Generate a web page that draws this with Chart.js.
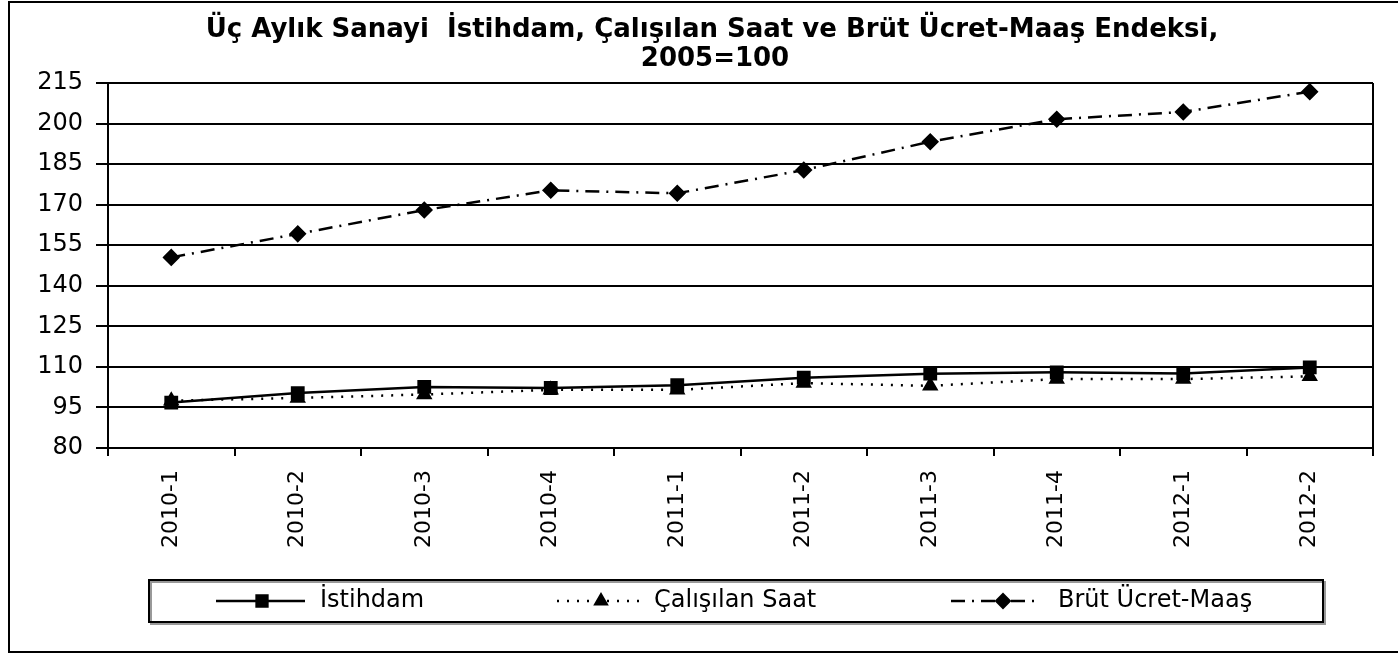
<!DOCTYPE html>
<html>
<head>
<meta charset="utf-8">
<script src="https://cdn.jsdelivr.net/npm/chart.js@4/dist/chart.umd.min.js"></script>
<style>
html,body{margin:0;padding:0;background:#fff;}
#wrap{position:relative;width:1398px;height:655px;}
</style>
</head>
<body>
<div id="wrap"><canvas id="c" width="1398" height="655"></canvas></div>
<script>
const categories = ['2010-1','2010-2','2010-3','2010-4','2011-1','2011-2','2011-3','2011-4','2012-1','2012-2'];
const istihdam = [96.8, 100.3, 102.6, 102.2, 103.2, 106.0, 107.5, 108.0, 107.6, 109.8];
const calisilanSaat = [97.5, 98.5, 99.8, 101.5, 101.5, 104.0, 103.0, 105.5, 105.5, 106.5];
const brutUcret = [150.5, 159.2, 168.0, 175.3, 174.2, 182.8, 193.3, 201.6, 204.3, 211.8];
const yTicks = [80, 95, 110, 125, 140, 155, 170, 185, 200, 215];
const seriesNames = ['İstihdam', 'Çalışılan Saat', 'Brüt Ücret-Maaş'];
const titleLines = ['Üç Aylık Sanayi  İstihdam, Çalışılan Saat ve Brüt Ücret-Maaş Endeksi,', '2005=100'];

const frame = {
  id: 'frame',
  beforeDraw(chart) {
    const ctx = chart.ctx;
    ctx.save();
    ctx.fillStyle = '#fff';
    ctx.fillRect(0, 0, chart.width, chart.height);
    ctx.strokeStyle = '#000';
    ctx.lineWidth = 2;
    ctx.strokeRect(9, 2, 1400, 650);
    // title
    ctx.fillStyle = '#000';
    ctx.font = 'bold 26px "DejaVu Sans"';
    ctx.textAlign = 'center';
    ctx.textBaseline = 'middle';
    ctx.fillText(titleLines[0], 712, 30);
    ctx.fillText(titleLines[1], 715, 59);
    ctx.restore();
  },
  afterDatasetsDraw(chart) {
    const ctx = chart.ctx;
    const a = chart.chartArea;
    ctx.save();
    ctx.strokeStyle = '#000';
    ctx.lineWidth = 2;
    ctx.beginPath();
    ctx.moveTo(a.right, a.top);
    ctx.lineTo(a.right, a.bottom);
    ctx.stroke();
    // legend box
    ctx.strokeStyle = '#999';
    ctx.lineWidth = 2;
    ctx.strokeRect(151, 582, 1174, 42);
    ctx.strokeStyle = '#000';
    ctx.strokeRect(149, 580, 1174, 42);
    const items = [
      {x1: 216, x2: 305, mx: 262, tx: 320},
      {x1: 557, x2: 645, mx: 601, tx: 654},
      {x1: 951, x2: 1035, mx: 1003, tx: 1058}
    ];
    const cy = 601;
    chart.data.datasets.forEach((ds, i) => {
      const it = items[i];
      ctx.save();
      ctx.strokeStyle = ds.borderColor;
      ctx.lineWidth = ds.borderWidth;
      ctx.setLineDash(ds.borderDash || []);
      ctx.beginPath();
      ctx.moveTo(it.x1, cy);
      ctx.lineTo(it.x2, cy);
      ctx.stroke();
      ctx.restore();
      Chart.helpers.drawPoint(ctx, {
        pointStyle: ds.pointStyle, radius: ds.pointRadius, borderWidth: 1, rotation: 0
      }, it.mx, cy);
      ctx.fillStyle = '#000';
      ctx.font = '24px "DejaVu Sans"';
      ctx.textAlign = 'left';
      ctx.textBaseline = 'middle';
      ctx.fillText(seriesNames[i], it.tx, cy);
    });
    ctx.restore();
  }
};

new Chart(document.getElementById('c'), {
  type: 'line',
  data: {
    labels: categories,
    datasets: [
      {label: seriesNames[0], data: istihdam, borderColor: '#000', backgroundColor: '#000',
       borderWidth: 2.5, pointStyle: 'rect', pointRadius: 8, pointBorderColor: '#000', pointBackgroundColor: '#000', tension: 0},
      {label: seriesNames[1], data: calisilanSaat, borderColor: '#000', backgroundColor: '#000',
       borderWidth: 2.5, borderDash: [2, 8], pointStyle: 'triangle', pointRadius: 7, pointBorderColor: '#000', pointBackgroundColor: '#000', tension: 0},
      {label: seriesNames[2], data: brutUcret, borderColor: '#000', backgroundColor: '#000',
       borderWidth: 2.5, borderDash: [14, 7, 2, 7], pointStyle: 'rectRot', pointRadius: 7, pointBorderColor: '#000', pointBackgroundColor: '#000', tension: 0}
    ]
  },
  options: {
    responsive: false,
    animation: false,
    layout: {padding: {left: 20, right: 25, top: 83, bottom: 87}},
    plugins: {legend: {display: false}, title: {display: false}, tooltip: {enabled: false}},
    scales: {
      x: {
        offset: true,
        grid: {offset: true, drawOnChartArea: false, drawTicks: true, tickLength: 8, color: '#000', lineWidth: 2},
        border: {color: '#000', width: 2},
        ticks: {color: '#000', font: {family: 'DejaVu Sans', size: 22}, maxRotation: 90, minRotation: 90, padding: 14, autoSkip: false},
        afterFit(s) { s.height = 120; }
      },
      y: {
        min: 80, max: 215,
        afterBuildTicks(s) { s.ticks = yTicks.map(v => ({value: v})); },
        grid: {color: '#000', lineWidth: 2, drawTicks: true, tickLength: 12},
        border: {color: '#000', width: 2},
        ticks: {color: '#000', font: {family: 'DejaVu Sans', size: 24}, padding: 13},
        afterFit(s) { s.width = 88; }
      }
    }
  },
  plugins: [frame]
});
</script>
</body>
</html>
